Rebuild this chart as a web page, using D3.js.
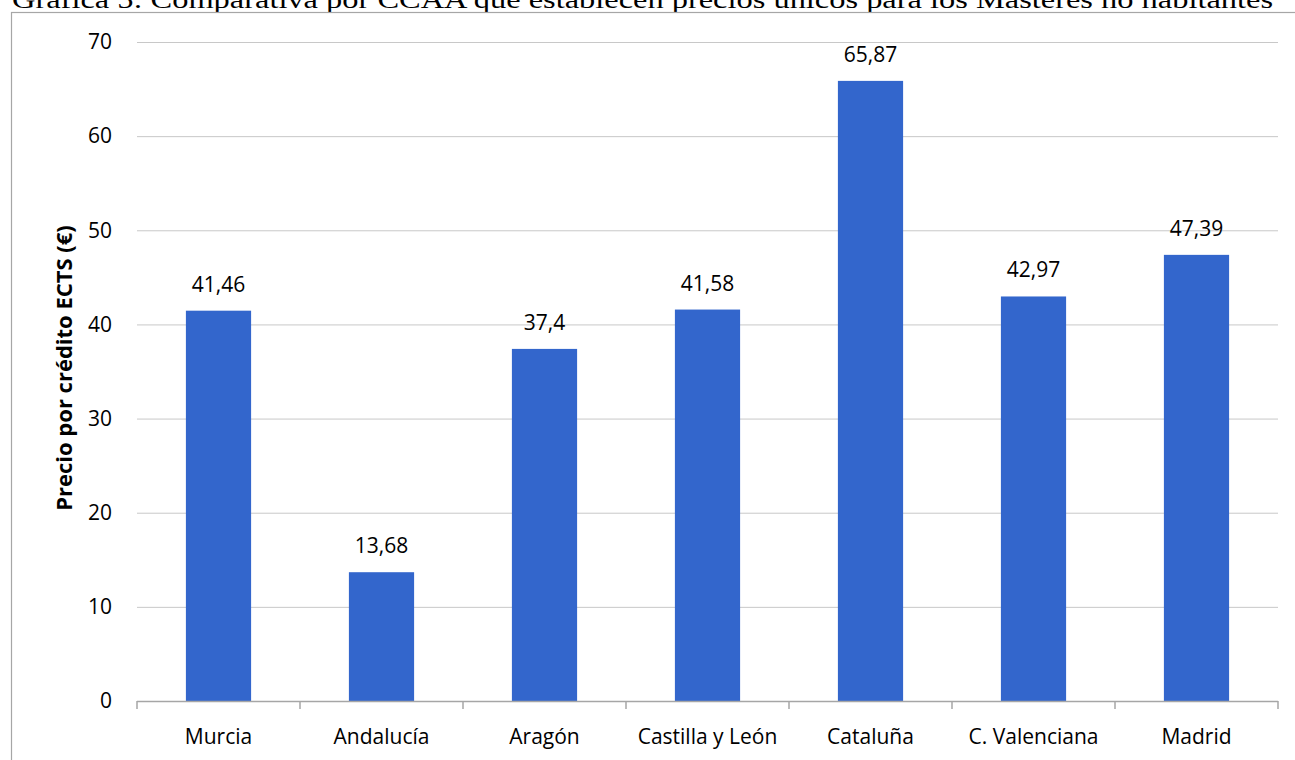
<!DOCTYPE html>
<html><head><meta charset="utf-8">
<script src="https://cdn.jsdelivr.net/npm/d3@7"></script>
<style>body{margin:0;background:#fff;overflow:hidden}</style>
</head><body>
<script>
const title = "Gráfica 5: Comparativa por CCAA que establecen precios únicos para los Másteres no habitantes";
const categories = ["Murcia","Andalucía","Aragón","Castilla y León","Cataluña","C. Valenciana","Madrid"];
const values = [41.46, 13.68, 37.4, 41.58, 65.87, 42.97, 47.39];
const valueLabels = ["41,46","13,68","37,4","41,58","65,87","42,97","47,39"];
const yTicks = [0,10,20,30,40,50,60,70];
const yTitle = "Precio por crédito ECTS (€)";

const W = 1295, H = 760;
const svg = d3.select("body").append("svg").attr("width", W).attr("height", H);
const font = "'Open Sans', sans-serif";

svg.append("text").attr("x", 12).attr("y", 8).attr("font-family", "'Liberation Serif', 'Times New Roman', serif")
  .attr("font-size", 26).attr("textLength", 1261).attr("lengthAdjust","spacingAndGlyphs").text(title);

svg.append("rect").attr("x", 11.5).attr("y", 12.5).attr("width", 1300).attr("height", 760)
  .attr("fill", "none").attr("stroke", "#a6a6a6").attr("stroke-width", 1.2);

const m = {l:137, r:1278, t:42, b:701};
const x = d3.scaleBand().domain(categories).range([m.l, m.r]).padding(0);
const y = d3.scaleLinear().domain([0,70]).range([m.b, m.t]);

const g = svg.append("g");
g.selectAll("line.grid").data(yTicks.filter(d=>d>0)).join("line")
  .attr("x1", m.l).attr("x2", m.r).attr("y1", d=>y(d)+0.5).attr("y2", d=>y(d)+0.5)
  .attr("stroke", "#c8c8c8").attr("stroke-width", 1);

g.selectAll("text.yt").data(yTicks).join("text")
  .attr("x", 112).attr("y", d=>y(d)).attr("dy","0.35em").attr("text-anchor","end")
  .attr("font-family", font).attr("font-size", 21).attr("fill","#000").text(d=>d);

const bw = x.bandwidth()*0.4;
g.selectAll("rect.bar").data(values).join("rect")
  .attr("x", (d,i)=>x(categories[i]) + (x.bandwidth()-bw)/2).attr("width", bw)
  .attr("y", d=>y(d)).attr("height", d=>y(0)-y(d)).attr("fill", "#3366CC");

g.selectAll("text.vl").data(values).join("text")
  .attr("x", (d,i)=>x(categories[i]) + x.bandwidth()/2).attr("y", d=>y(d)-19)
  .attr("text-anchor","middle").attr("font-family", font).attr("font-size", 21).attr("fill","#000")
  .text((d,i)=>valueLabels[i]);

// x axis
g.append("line").attr("x1", m.l).attr("x2", m.r).attr("y1", m.b+0.5).attr("y2", m.b+0.5)
  .attr("stroke", "#a6a6a6").attr("stroke-width", 1.5);
const tickXs = categories.map(c=>x(c)).concat([m.r]);
g.selectAll("line.xt").data(tickXs).join("line")
  .attr("x1", d=>d).attr("x2", d=>d).attr("y1", m.b).attr("y2", m.b+8)
  .attr("stroke", "#a6a6a6").attr("stroke-width", 1.5);
g.selectAll("text.xl").data(categories).join("text")
  .attr("x", d=>x(d)+x.bandwidth()/2).attr("y", 744).attr("text-anchor","middle")
  .attr("font-family", font).attr("font-size", 21).attr("fill","#000").text(d=>d);

svg.append("text").attr("transform", `translate(72,368) rotate(-90)`)
  .attr("text-anchor","middle").attr("font-family", font).attr("font-weight","bold")
  .attr("font-size", 22).attr("fill","#000").text(yTitle);
</script>
</body></html>
